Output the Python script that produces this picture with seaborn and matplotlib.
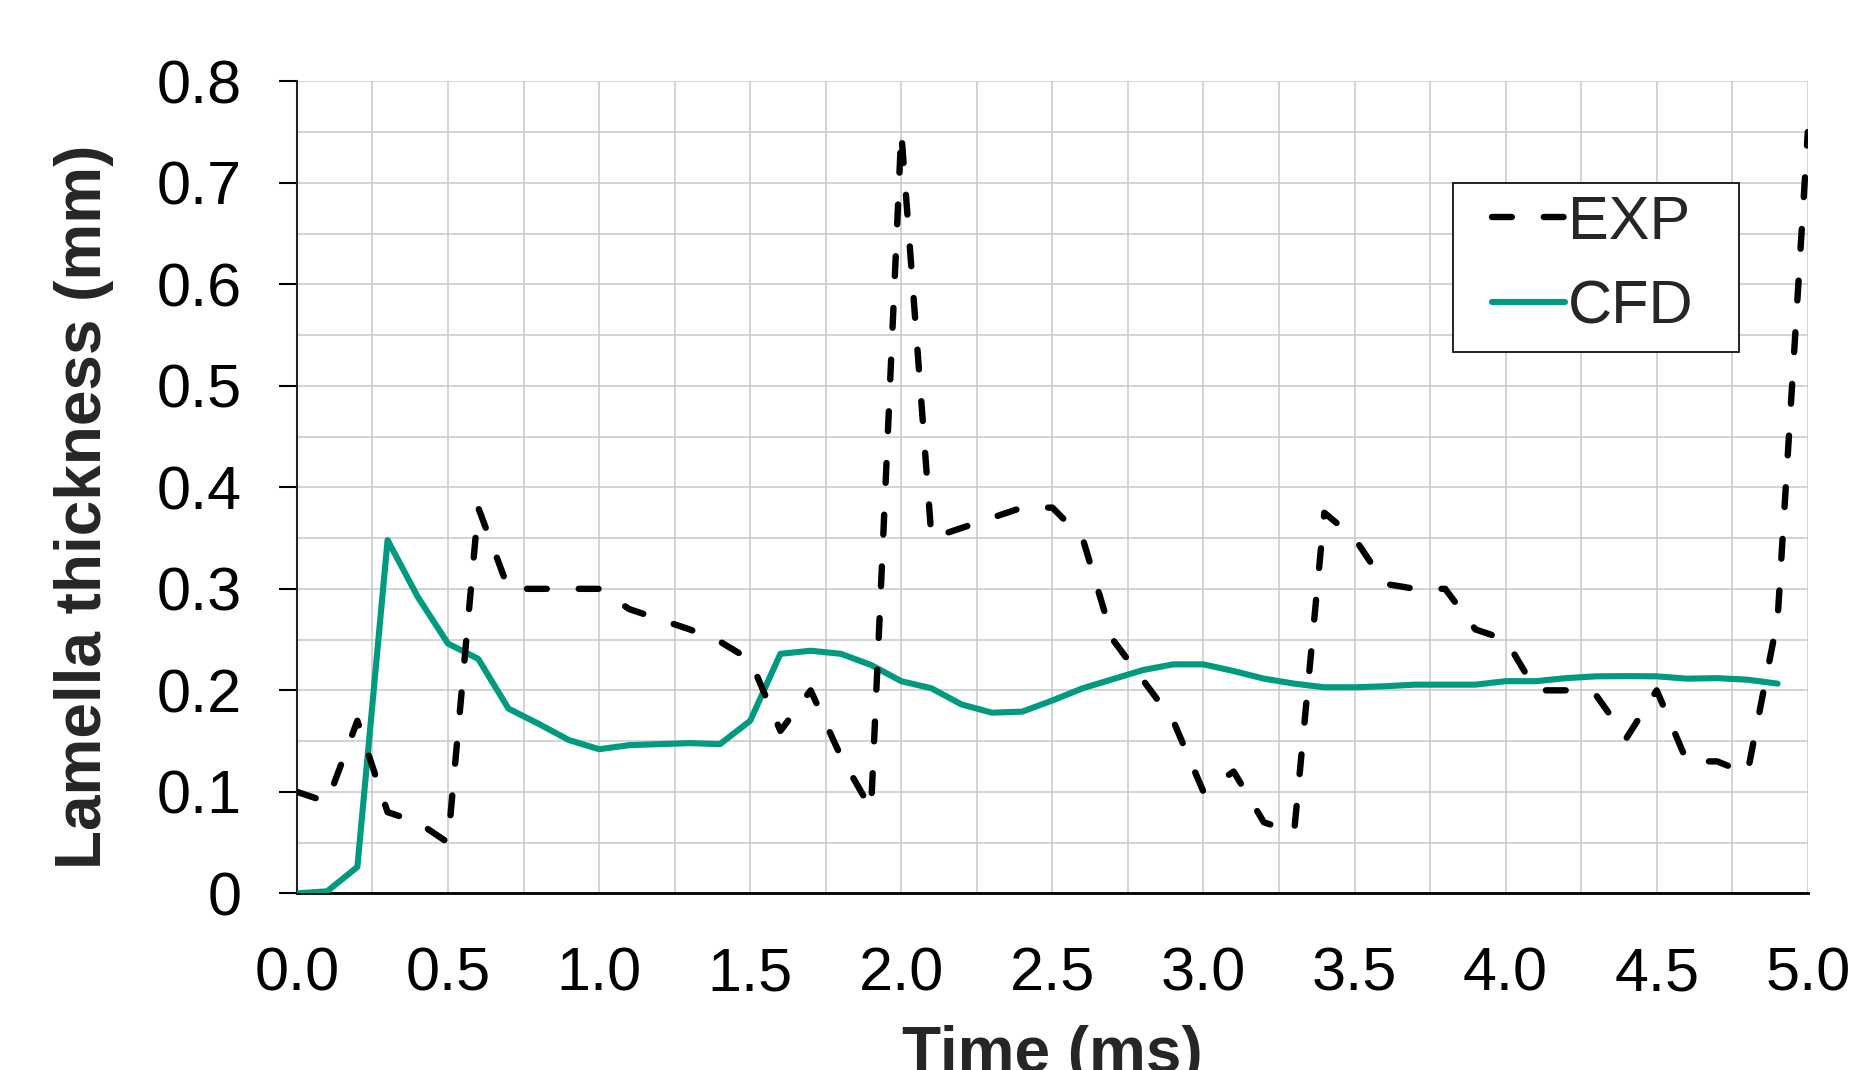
import numpy as np
import pandas as pd
import matplotlib
matplotlib.use("Agg")
import matplotlib.pyplot as plt
from matplotlib.patches import Rectangle
import seaborn as sns

# ---------------- data ----------------
time_exp = [0.0, 0.1, 0.2, 0.3, 0.4, 0.5, 0.6, 0.7, 0.8, 0.9,
            1.0, 1.1, 1.2, 1.3, 1.4, 1.5, 1.6, 1.7, 1.8, 1.9,
            2.0, 2.1, 2.2, 2.3, 2.4, 2.5, 2.6, 2.7, 2.8, 2.9,
            3.0, 3.1, 3.2, 3.3, 3.4, 3.5, 3.6, 3.7, 3.8, 3.9,
            4.0, 4.1, 4.2, 4.3, 4.4, 4.5, 4.6, 4.7, 4.8, 4.9, 5.0]
exp_thickness = [0.10, 0.09, 0.17, 0.08, 0.07, 0.05, 0.38, 0.30, 0.30, 0.30,
                 0.30, 0.28, 0.27, 0.26, 0.248, 0.23, 0.16, 0.20, 0.135, 0.083,
                 0.75, 0.35, 0.36, 0.37, 0.38, 0.38, 0.35, 0.25, 0.21, 0.17,
                 0.10, 0.12, 0.07, 0.06, 0.375, 0.35, 0.305, 0.30, 0.30, 0.26,
                 0.25, 0.20, 0.20, 0.195, 0.153, 0.20, 0.13, 0.13, 0.118, 0.27, 0.75]

time_cfd = [0.0, 0.1, 0.2, 0.3, 0.4, 0.5, 0.6, 0.7, 0.8, 0.9,
            1.0, 1.1, 1.2, 1.3, 1.4, 1.5, 1.6, 1.7, 1.8, 1.9,
            2.0, 2.1, 2.2, 2.3, 2.4, 2.5, 2.6, 2.7, 2.8, 2.9,
            3.0, 3.1, 3.2, 3.3, 3.4, 3.5, 3.6, 3.7, 3.8, 3.9,
            4.0, 4.1, 4.2, 4.3, 4.4, 4.5, 4.6, 4.7, 4.8, 4.9]
cfd_thickness = [0.0, 0.002, 0.026, 0.348, 0.292, 0.246, 0.231, 0.182, 0.167, 0.151,
                 0.142, 0.146, 0.147, 0.148, 0.147, 0.170, 0.236, 0.239, 0.236, 0.225,
                 0.209, 0.202, 0.186, 0.178, 0.179, 0.190, 0.202, 0.211, 0.220, 0.2256,
                 0.2256, 0.219, 0.2115, 0.2066, 0.203, 0.203, 0.204, 0.2056, 0.2056, 0.2056,
                 0.209, 0.209, 0.212, 0.2138, 0.214, 0.2138, 0.2115, 0.212, 0.2105, 0.2066]

series_labels = ["EXP", "CFD"]
x_ticks = [0.0, 0.5, 1.0, 1.5, 2.0, 2.5, 3.0, 3.5, 4.0, 4.5, 5.0]
x_tick_labels = ["0.0", "0.5", "1.0", "1.5", "2.0", "2.5", "3.0", "3.5", "4.0", "4.5", "5.0"]
y_ticks = [0.0, 0.1, 0.2, 0.3, 0.4, 0.5, 0.6, 0.7, 0.8]
y_tick_labels = ["0", "0.1", "0.2", "0.3", "0.4", "0.5", "0.6", "0.7", "0.8"]
x_label = "Time (ms)"
y_label = "Lamella thickness (mm)"

df_exp = pd.DataFrame({"t": time_exp, "v": exp_thickness})
df_cfd = pd.DataFrame({"t": time_cfd, "v": cfd_thickness})

# ---------------- style ----------------
sns.set_theme(style="white")
plt.rcParams["font.family"] = ["Liberation Sans", "DejaVu Sans"]

CFD_COLOR = "#009a80"
GRID_COLOR = "#c9c9c9"

fig = plt.figure(figsize=(18.57, 10.70), dpi=100)
ax = fig.add_axes([0.1599, 0.1651, 0.8136, 0.7589])

sns.lineplot(data=df_cfd, x="t", y="v", ax=ax, color=CFD_COLOR, linewidth=4.4,
             errorbar=None, sort=False, legend=False,
             solid_joinstyle="round", solid_capstyle="round", zorder=3)
sns.lineplot(data=df_exp, x="t", y="v", ax=ax, color="black", linewidth=4.6,
             errorbar=None, sort=False, legend=False,
             linestyle=(0, (3.1, 5.0)), dash_capstyle="round",
             dash_joinstyle="round", zorder=4)

ax.set_xlim(0, 5)
ax.set_ylim(0, 0.8)
ax.set_xticks(x_ticks)
ax.set_xticklabels(x_tick_labels)
ax.set_yticks(y_ticks)
ax.set_yticklabels(y_tick_labels)
ax.set_xticks(np.arange(0.25, 5.0, 0.5), minor=True)
ax.set_yticks(np.arange(0.05, 0.8, 0.1), minor=True)

ax.grid(True, which="both", color=GRID_COLOR, linewidth=1.1, zorder=0)
ax.set_axisbelow(True)

ax.tick_params(axis="x", which="both", length=0, pad=38, labelsize=44, colors="black")
ax.tick_params(axis="y", which="major", length=13, width=1.5, direction="out",
               pad=27, labelsize=44, colors="black", left=True)
ax.tick_params(axis="y", which="minor", length=0)

for s in ["top", "right"]:
    ax.spines[s].set_visible(False)
ax.spines["left"].set_color("#222222")
ax.spines["left"].set_linewidth(1.5)
ax.spines["bottom"].set_color("black")
ax.spines["bottom"].set_linewidth(2.0)

ax.set_xlabel(x_label, fontsize=46, fontweight="bold", labelpad=16)
ax.set_ylabel(y_label, fontsize=46, fontweight="bold", labelpad=30)
ax.yaxis.label.set_y(0.4766)

# ---------------- legend ----------------
frame = Rectangle((0.7653, 0.667), 0.1892, 0.2074, transform=ax.transAxes,
                  facecolor="white", edgecolor="black", linewidth=1.2, zorder=5)
ax.add_patch(frame)
exp_line = ax.lines[1]
cfd_line = ax.lines[0]
leg = ax.legend([exp_line, cfd_line], series_labels, loc="upper left",
                bbox_to_anchor=(0.7907, 0.8606), borderaxespad=0, borderpad=0,
                frameon=False, fontsize=44, handlelength=1.2, handletextpad=0.05,
                labelspacing=0.46)
leg.set_zorder(6)

fig.savefig("out.png", dpi=100)
